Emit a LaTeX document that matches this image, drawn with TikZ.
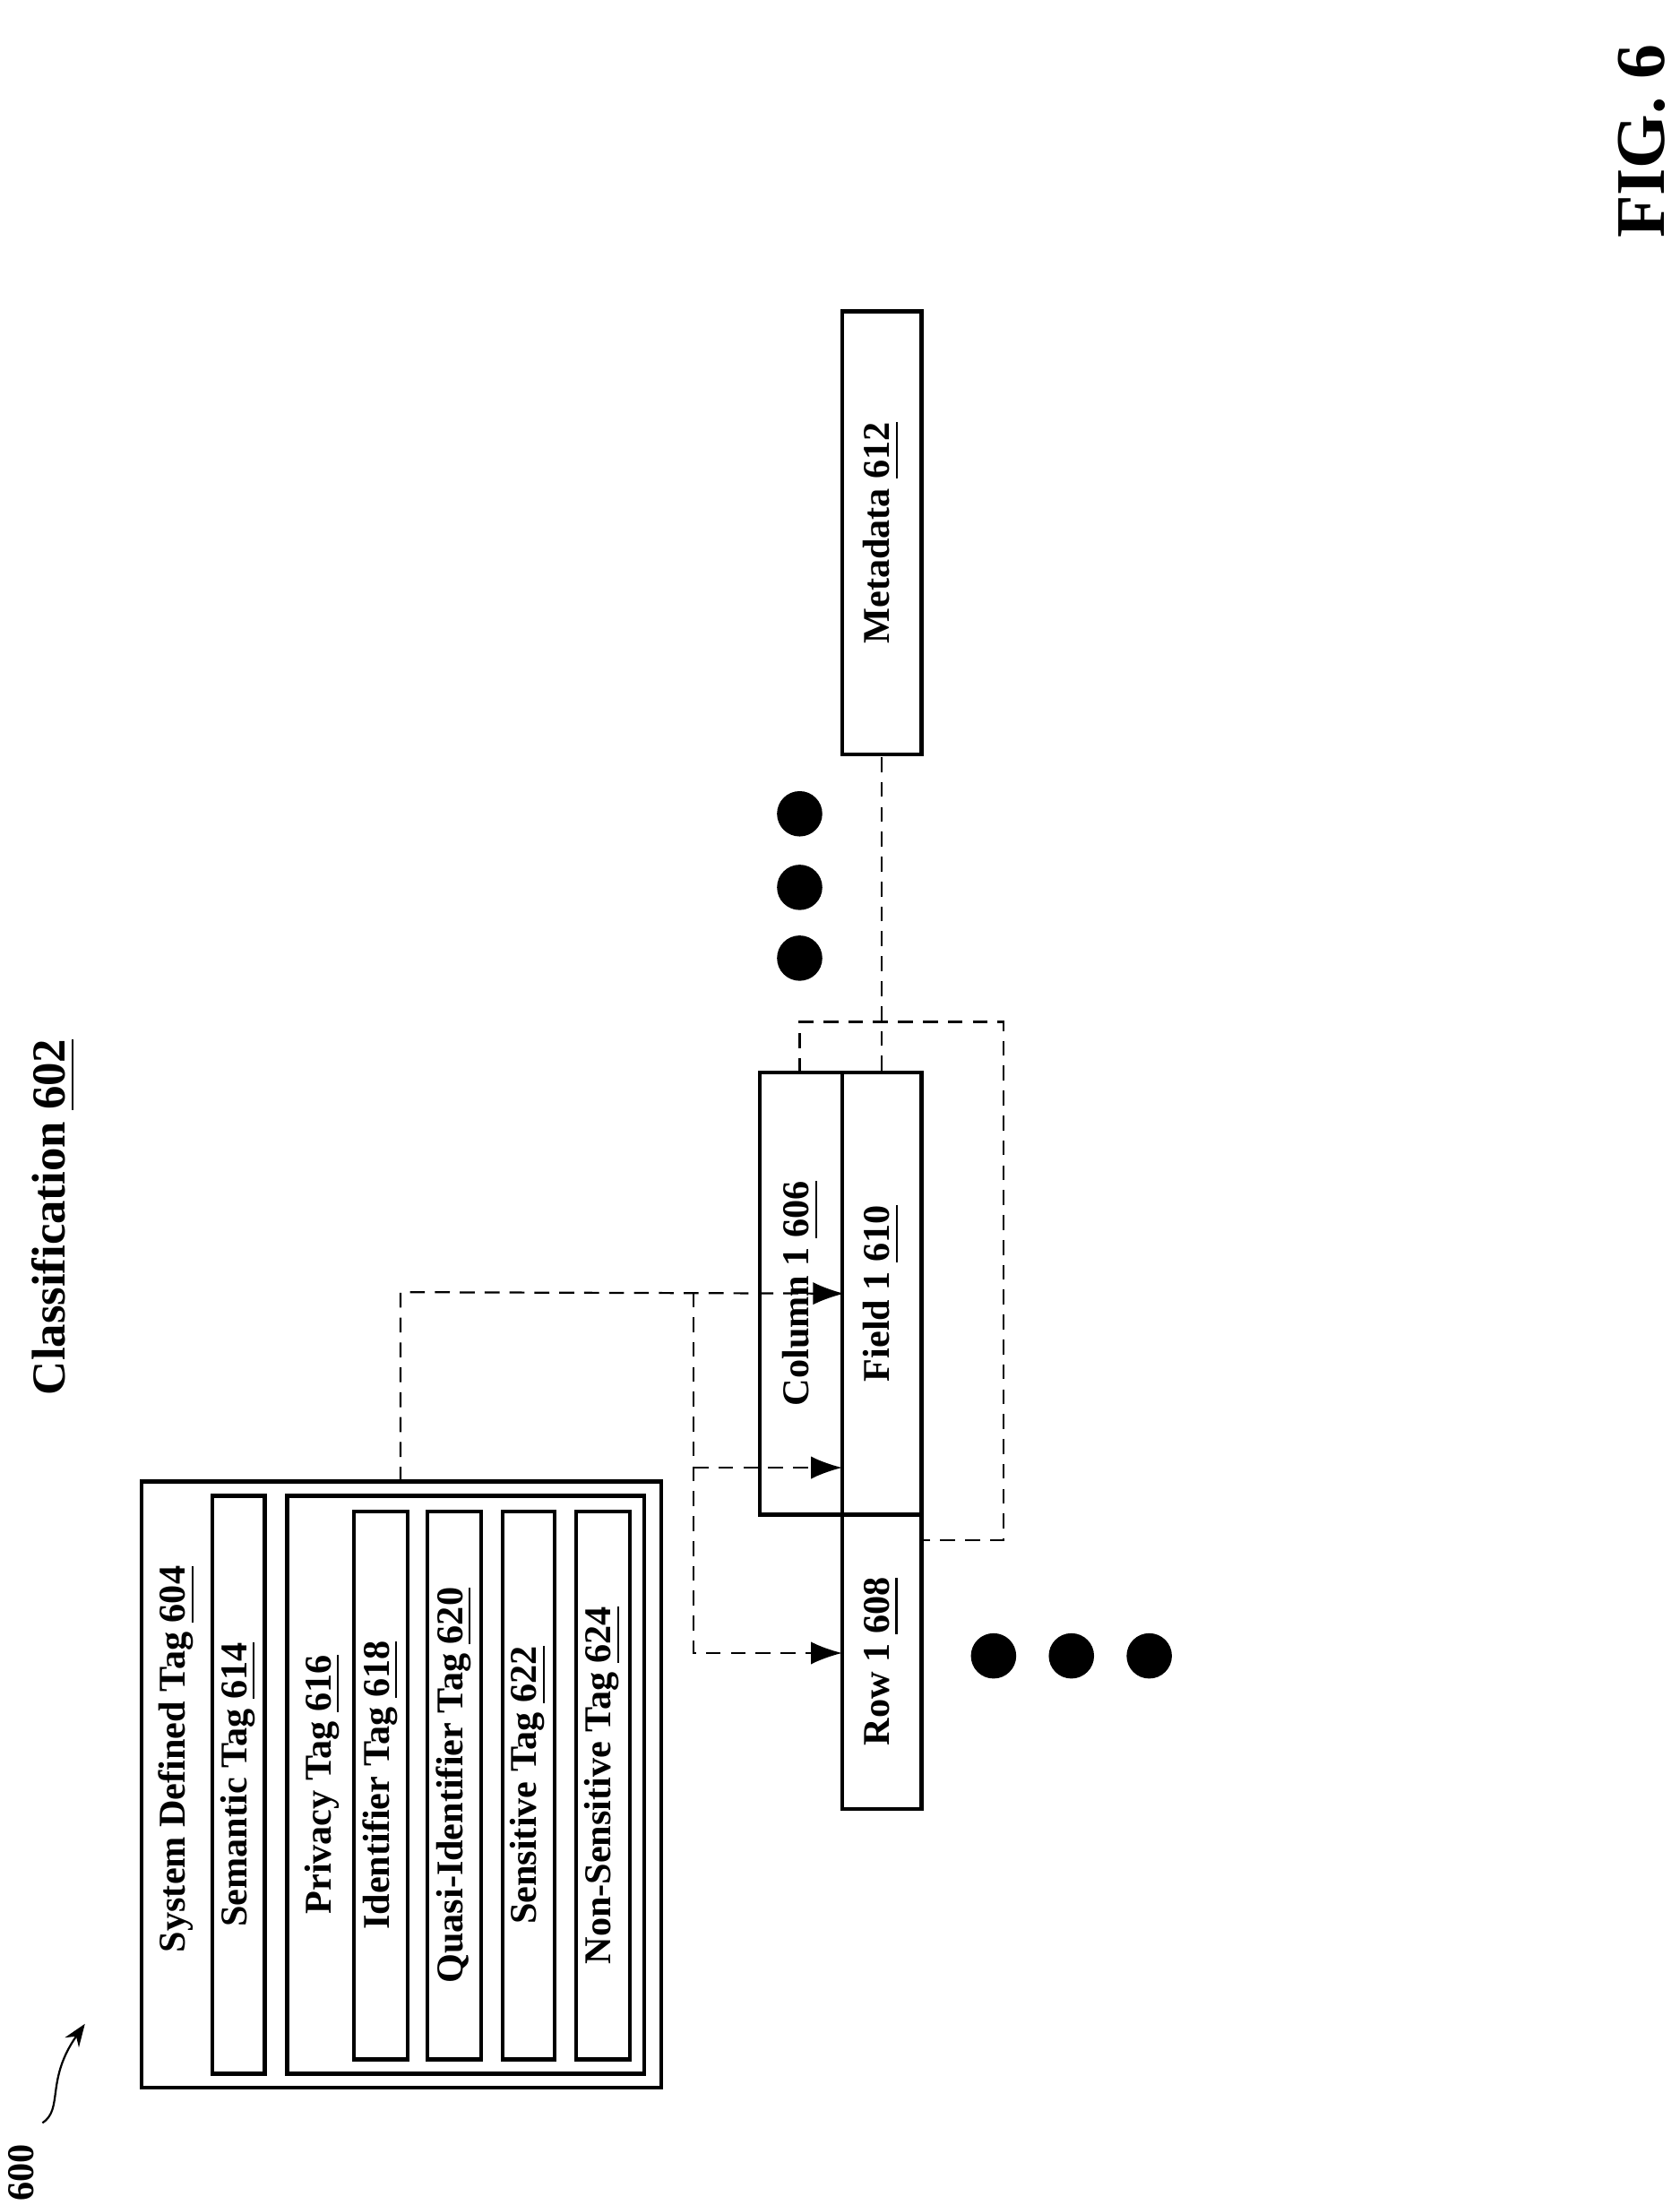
\documentclass[tikz,border=0pt]{standalone}
\usepackage{fontspec}
\setmainfont{Liberation Serif}
\usetikzlibrary{arrows.meta}
\tikzset{
  box/.style={draw, thick, rotate=90, inner sep=0pt},
  lbl/.style={rotate=90, font=\fontsize{7.6}{9}\selectfont\bfseries},
  link/.style={densely dashed, thin, -{Latex[length=2.2mm,width=1.6mm]}},
  dot/.style={circle, fill, inner sep=0pt, minimum size=0.32cm}
}
\begin{document}
\begin{tikzpicture}[x=0.01cm, y=-0.01cm]
  \useasboundingbox (0,0) rectangle (1187,1558);
  % tag group
  \node (sys) [box, minimum width=4.28cm, minimum height=3.67cm] at (283.5,1261) {};
  \node (syst) [lbl] at (125,1243) {System Defined Tag \underline{604}};
  \node (sem) [box, minimum width=4.08cm, minimum height=0.37cm] at (168.5,1261) {};
  \node [lbl] at (sem) {Semantic Tag \underline{614}};
  \node (pri) [box, minimum width=4.08cm, minimum height=2.52cm] at (329,1261) {};
  \node [lbl] at (228,1261) {Privacy Tag \underline{616}};
  \node (idt) [box, minimum width=3.87cm, minimum height=0.38cm] at (269,1261.5) {};
  \node [lbl] at (idt) {Identifier Tag \underline{618}};
  \node (qid) [box, minimum width=3.87cm, minimum height=0.38cm] at (321,1261.5) {};
  \node [lbl] at (qid) {Quasi-Identifier Tag \underline{620}};
  \node (sen) [box, minimum width=3.87cm, minimum height=0.37cm] at (373.5,1261.5) {};
  \node [lbl] at (sen) {Sensitive Tag \underline{622}};
  \node (non) [box, minimum width=3.87cm, minimum height=0.38cm] at (426,1261.5) {};
  \node [lbl] at (non) {Non-Sensitive Tag \underline{624}};
  % data
  \node (col) [box, minimum width=3.12cm, minimum height=0.58cm] at (566,914) {};
  \node [lbl] at (col) {Column 1 \underline{606}};
  \node (fld) [box, minimum width=3.12cm, minimum height=0.56cm] at (623,914) {};
  \node [lbl] at (fld) {Field 1 \underline{610}};
  \node (row) [box, minimum width=2.08cm, minimum height=0.56cm] at (623,1174) {};
  \node [lbl] at (row) {Row 1 \underline{608}};
  \node (meta) [box, minimum width=3.13cm, minimum height=0.56cm] at (623,376.5) {};
  \node [lbl] at (meta) {Metadata \underline{612}};
  % connectors
  \coordinate (up) at (283,913);
  \coordinate (split) at (490,913);
  \draw[link] (283,1047) -- (up) -- (col.south);
  \draw[link] (split) -- (490,1168) -- (595,1168);
  \draw[link] (490,1037) -- (595,1037);
  \draw[densely dashed, thin] (565,758) -- (565,722) -- (709,722) -- (709,1088) -- (651,1088);
  \draw[densely dashed, thin] (fld.east) -- (meta.west);
  % dots
  \foreach \y in {575,627,677} \node[dot] at (565,\y) {};
  \foreach \x in {702,757,812} \node[dot] at (\x,1170) {};
  % labels
  \node (cls) [lbl, font=\fontsize{9.5}{11}\selectfont\bfseries] at (38,860) {Classification \underline{602}};
  \node (fig) [rotate=90, font=\fontsize{14}{16}\selectfont\bfseries] at (1160,100) {FIG. 6};
  \node (num) [rotate=90, font=\fontsize{7.6}{9}\selectfont\bfseries] at (15,1535) {600};
  \draw[-{Stealth[length=1.6mm]}] (30,1500) .. controls (45,1490) and (32,1470) .. (60,1430);
\end{tikzpicture}
\end{document}
